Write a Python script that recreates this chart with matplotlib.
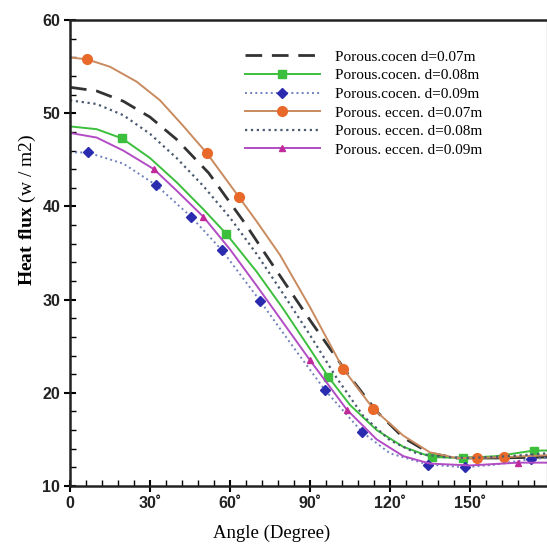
import matplotlib
matplotlib.use("Agg")
import matplotlib.pyplot as plt

plt.rcParams['mathtext.fontset'] = 'custom'
plt.rcParams['mathtext.rm'] = 'Liberation Serif'
plt.rcParams['mathtext.bf'] = 'Liberation Serif:bold'

# Porous.cocen d=0.07m (dashed black)
x_c07 = [0, 10, 20, 30, 40, 52, 65.6, 75.6, 90, 105, 115, 125, 135, 145, 160, 179]
y_c07 = [52.8, 52.4, 51.3, 49.6, 47.2, 43.6, 38.2, 33.9, 27.8, 21.7, 18.0, 15.2, 13.5, 13.0, 13.0, 13.1]

# Porous.cocen. d=0.08m (green, squares)
x_c08 = [0, 10, 19.6, 30, 40, 50, 58.5, 70, 80, 90, 96.9, 105, 115, 125, 135.6, 147.4, 160, 174, 179]
y_c08 = [48.6, 48.3, 47.3, 45.2, 42.6, 39.7, 37.1, 33.0, 29.0, 24.7, 21.7, 18.7, 16.0, 14.2, 13.1, 13.0, 13.2, 13.8, 13.8]
m_c08 = [2, 6, 10, 14, 15, 17]

# Porous.cocen. d=0.09m (blue dotted, diamonds)
x_c09 = [0, 6.6, 20, 32.3, 45.4, 57, 71.2, 83, 95.6, 109.5, 120, 134.3, 148, 160, 173, 179]
y_c09 = [45.8, 45.8, 44.6, 42.3, 38.9, 35.3, 29.9, 25.2, 20.3, 15.8, 13.5, 12.3, 12.0, 12.3, 12.9, 13.0]
m_c09 = [1, 3, 4, 5, 6, 8, 9, 11, 12, 14]

# Porous. eccen. d=0.07m (orange, circles)
x_e07 = [0, 6.4, 15, 25, 33.75, 42, 51.4, 63.4, 70, 78.75, 90, 102.4, 113.7, 125, 135, 145, 152.6, 162.8, 179]
y_e07 = [56.0, 55.8, 55.0, 53.4, 51.4, 48.8, 45.7, 41.0, 38.4, 34.8, 29.2, 22.6, 18.3, 15.4, 13.6, 13.0, 13.0, 13.1, 13.3]
m_e07 = [1, 6, 7, 11, 12, 16, 17]

# Porous. eccen. d=0.08m (dark dotted)
x_e08 = [0, 10, 20, 30, 40, 50, 60, 70, 80, 90, 100, 110, 120, 130, 140, 150, 165, 179]
y_e08 = [51.4, 51.0, 49.8, 47.8, 45.2, 42.2, 38.8, 34.9, 30.6, 26.2, 21.6, 17.5, 14.9, 13.5, 13.1, 13.0, 13.2, 13.5]

# Porous. eccen. d=0.09m (magenta, triangles)
x_e09 = [0, 10, 20, 31.5, 40, 50, 60, 70, 80, 90, 103.8, 115, 125, 135, 150, 168, 179]
y_e09 = [47.9, 47.4, 46.0, 44.0, 41.7, 38.9, 35.4, 31.5, 27.5, 23.5, 18.2, 15.0, 13.2, 12.4, 12.2, 12.5, 12.5]
m_e09 = [3, 5, 9, 10, 15]

x_ticks = [0, 30, 60, 90, 120, 150]
x_tick_labels = ['0', '30˚', '60˚', '90˚', '120˚', '150˚']
y_ticks = [10, 20, 30, 40, 50, 60]

fig = plt.figure(figsize=(5.47, 5.46), dpi=100)
ax = fig.add_axes([0.128, 0.110, 0.872, 0.853])

ax.plot(x_c07, y_c07, color='#333333', lw=2.0, ls=(0, (6, 3.5)),
        label='Porous.cocen d=0.07m')
ax.plot(x_c08, y_c08, color='#3cbf3c', lw=1.4, marker='s', ms=6,
        markevery=m_c08, label='Porous.cocen. d=0.08m')
ax.plot(x_c09, y_c09, color='#7080c0', lw=1.4, ls=':', marker='D', ms=5,
        mfc='#2b2bb0', mec='#2b2bb0', markevery=m_c09,
        label='Porous.cocen. d=0.09m')
ax.plot(x_e07, y_e07, color='#c98a5e', lw=1.4, marker='o', ms=7,
        mfc='#e8692a', mec='#e8692a', markevery=m_e07,
        label='Porous. eccen. d=0.07m')
ax.plot(x_e08, y_e08, color='#4a5a70', lw=1.6, ls=':',
        label='Porous. eccen. d=0.08m')
ax.plot(x_e09, y_e09, color='#b24cc4', lw=1.4, marker='^', ms=5,
        mfc='#c02a9a', mec='#c02a9a', markevery=m_e09,
        label='Porous. eccen. d=0.09m')

ax.set_xlim(0, 178.9)
ax.set_ylim(10, 60)
ax.set_xticks(x_ticks)
ax.set_xticklabels(x_tick_labels)
ax.set_yticks(y_ticks)
ax.set_xticks(range(0, 179, 6), minor=True)
ax.set_yticks(range(10, 61, 2), minor=True)

for lab in ax.get_xticklabels() + ax.get_yticklabels():
    lab.set_fontfamily('Liberation Sans')
    lab.set_fontweight('bold')
    lab.set_fontsize(11.5)
    lab.set_color('#222222')

ax.tick_params(which='major', direction='inout', length=8, width=1.5)
ax.tick_params(which='minor', direction='in', length=4, width=1)
ax.tick_params(axis='y', which='major', pad=3)
ax.tick_params(axis='x', which='major', pad=3)
ax.tick_params(top=False, right=False, which='both')

for side in ['left', 'bottom', 'top']:
    ax.spines[side].set_linewidth(1.8)
    ax.spines[side].set_color('#222222')

leg = ax.legend(loc='upper left', bbox_to_anchor=(0.354, 0.949), frameon=False,
                prop={'family': 'Liberation Serif', 'size': 11},
                handlelength=4.9, handletextpad=1.0, labelspacing=0.32,
                borderaxespad=0, markerscale=1.0)

fig.text(0.497, 0.024, 'Angle (Degree)', ha='center', va='center',
         family='Liberation Serif', fontsize=13.5)
fig.text(0.05, 0.615, r'$\bf{Heat\ flux}$ (w / m2)', ha='center', va='center',
         rotation=90, family='Liberation Serif', fontsize=14)

fig.savefig('out.png', dpi=100)
